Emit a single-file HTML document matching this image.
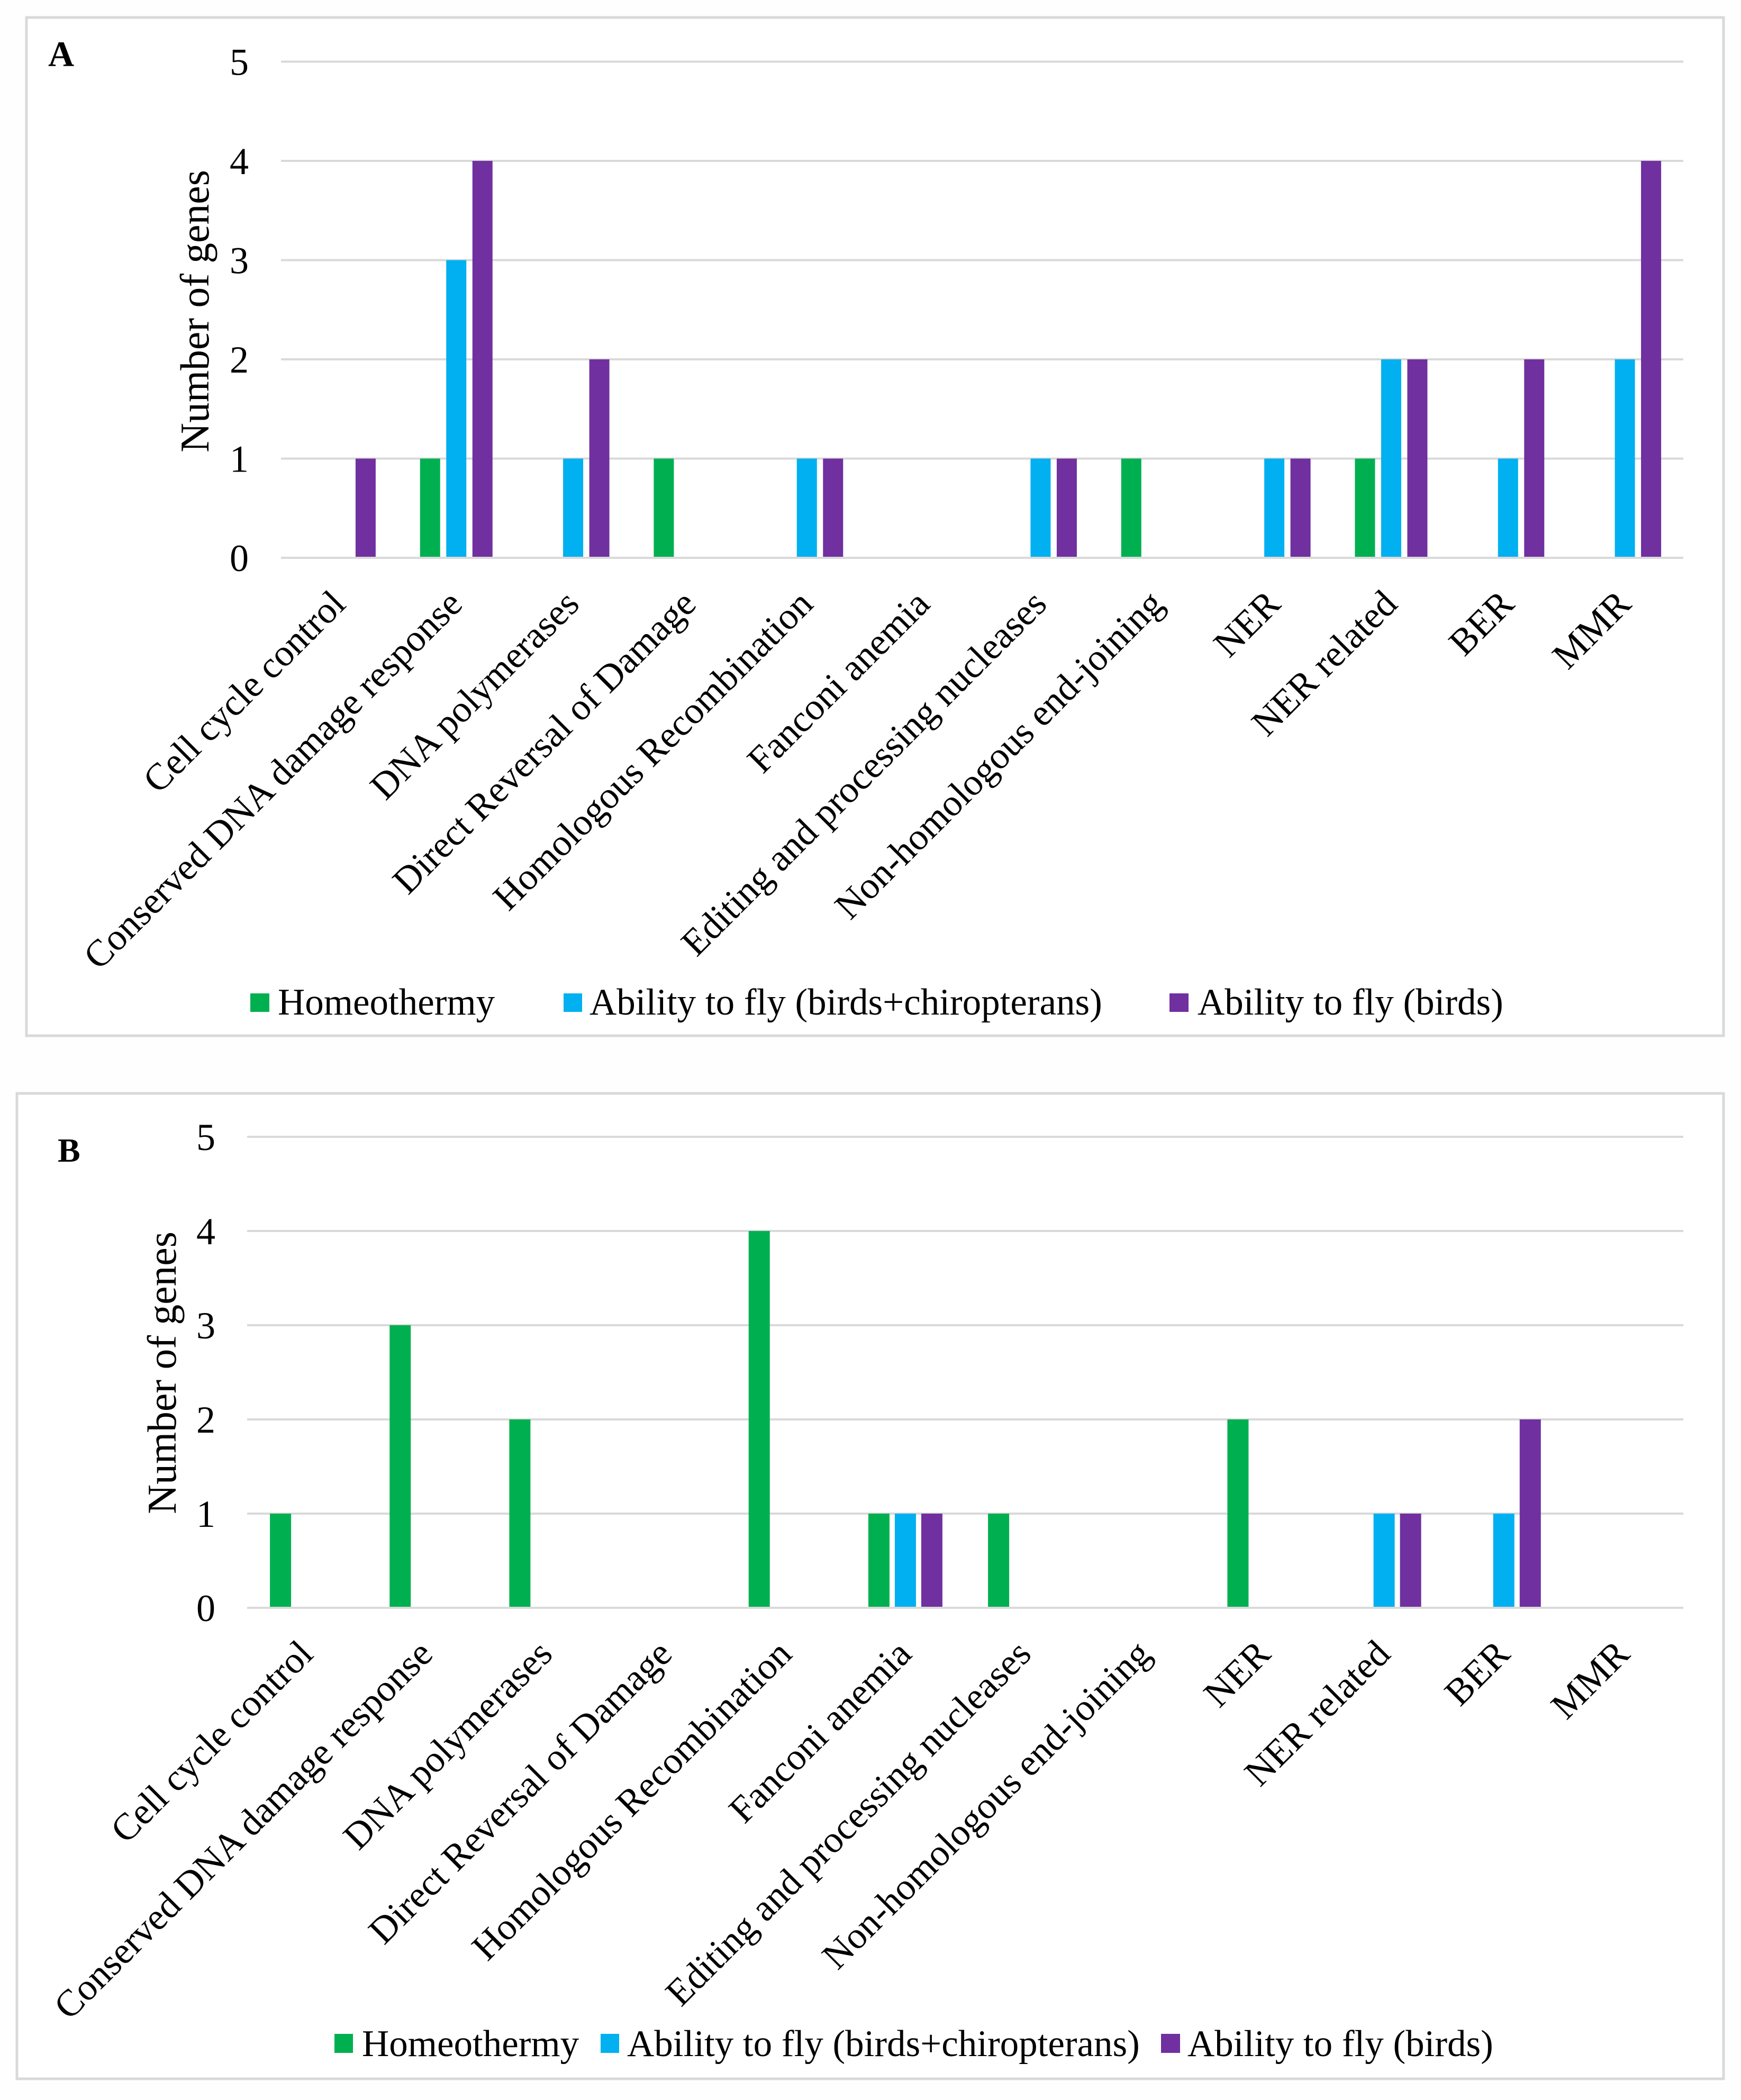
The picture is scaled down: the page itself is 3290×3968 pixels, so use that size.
<!DOCTYPE html>
<html lang="en">
<head>
<meta charset="utf-8">
<title>Number of genes by DNA repair category</title>
<style>
html,body{margin:0;padding:0;background:#fff;width:3290px;height:3968px;overflow:hidden}
svg{display:block}
text{font-family:"Liberation Serif",serif;fill:#000}
</style>
</head>
<body>
<svg id="figure" xmlns="http://www.w3.org/2000/svg" width="3290" height="3968" viewBox="0 0 3290 3968">
<rect x="0" y="0" width="3290" height="3968" fill="#fefefe"/>
<g id="panel-a">
<rect x="50" y="33" width="3207" height="1924" fill="#fff" stroke="#d9d9d9" stroke-width="5"/>
<text x="91" y="125" font-size="68" font-weight="bold">A</text>
<text transform="translate(394,588) rotate(-90)" text-anchor="middle" font-size="77.5">Number of genes</text>
<g>
<rect x="473" y="1877" width="36" height="35" fill="#00b050"/>
<text x="525" y="1917" font-size="71">Homeothermy</text>
<rect x="1065" y="1877" width="35" height="35" fill="#00b0f0"/>
<text x="1114" y="1917" font-size="71">Ability to fly (birds+chiropterans)</text>
<rect x="2210" y="1877" width="36" height="35" fill="#7030a0"/>
<text x="2263" y="1917" font-size="71">Ability to fly (birds)</text>
</g>
</g>
<g id="panel-b">
<rect x="32" y="2066" width="3225" height="1862" fill="#fff" stroke="#d9d9d9" stroke-width="5"/>
<text x="109" y="2195" font-size="64" font-weight="bold">B</text>
<text transform="translate(332,2594) rotate(-90)" text-anchor="middle" font-size="77.5">Number of genes</text>
<g>
<rect x="632" y="3843" width="35" height="36" fill="#00b050"/>
<text x="684" y="3885" font-size="71">Homeothermy</text>
<rect x="1135" y="3843" width="35" height="36" fill="#00b0f0"/>
<text x="1185" y="3885" font-size="71">Ability to fly (birds+chiropterans)</text>
<rect x="2194" y="3843" width="36" height="36" fill="#7030a0"/>
<text x="2244" y="3885" font-size="71">Ability to fly (birds)</text>
</g>
</g>
</svg>
<script>
var categories = ["Cell cycle control","Conserved DNA damage response","DNA polymerases","Direct Reversal of Damage","Homologous Recombination","Fanconi anemia","Editing and processing nucleases","Non-homologous end-joining","NER","NER related","BER","MMR"];
var yTicks = [0,1,2,3,4,5];
var seriesNames = ["homeothermy","fly-birds-chiropterans","fly-birds"];
var seriesColors = ["#00b050","#00b0f0","#7030a0"];
var homeothermyA = [0,1,0,1,0,0,0,1,0,1,0,0];
var flyBothA = [0,3,1,0,1,0,1,0,1,2,1,2];
var flyBirdsA = [1,4,2,0,1,0,1,0,1,2,2,4];
var homeothermyB = [1,3,2,0,4,1,1,0,2,0,0,0];
var flyBothB = [0,0,0,0,0,1,0,0,0,1,1,0];
var flyBirdsB = [0,0,0,0,0,1,0,0,0,1,2,0];

var NS = "http://www.w3.org/2000/svg";

function drawPanel(groupId, suffix, series, box) {
  var g = document.getElementById(groupId);
  var band = (box.right - box.left) / categories.length;
  function xCenter(i) { return box.left + band * (i + 0.5); }
  function yPos(v) { return box.y0 + (box.y5 - box.y0) * v / 5; }

  yTicks.forEach(function (t) {
    var line = document.createElementNS(NS, "line");
    
    
    line.setAttribute("x1", box.left);
    line.setAttribute("x2", box.right);
    line.setAttribute("y1", yPos(t));
    line.setAttribute("y2", yPos(t));
    line.setAttribute("stroke", "#d9d9d9");
    line.setAttribute("stroke-width", "4");
    g.appendChild(line);

    var label = document.createElementNS(NS, "text");
    
    
    label.setAttribute("x", box.tickX);
    label.setAttribute("y", yPos(t) + 25);
    label.setAttribute("text-anchor", "end");
    label.setAttribute("font-size", "72");
    label.textContent = t;
    g.appendChild(label);
  });

  series.forEach(function (values, s) {
    values.forEach(function (v, i) {
      if (v <= 0) return;
      var bar = document.createElementNS(NS, "rect");
      
      
      var cx = xCenter(i) + (s - 1) * box.step;
      bar.setAttribute("x", cx - box.barW / 2);
      bar.setAttribute("width", box.barW);
      bar.setAttribute("y", yPos(v));
      bar.setAttribute("height", yPos(0) - yPos(v) - 2);
      bar.setAttribute("fill", seriesColors[s]);
      g.appendChild(bar);
    });
  });

  categories.forEach(function (c, i) {
    var cat = document.createElementNS(NS, "text");
    
    
    var ax = xCenter(i) + box.labelDx;
    var ay = box.y0 + box.labelDy;
    cat.setAttribute("transform", "translate(" + ax + "," + ay + ") rotate(-45)");
    cat.setAttribute("text-anchor", "end");
    cat.setAttribute("font-size", "71");
    cat.textContent = c;
    g.appendChild(cat);
  });
}

drawPanel("panel-a", "a", [homeothermyA, flyBothA, flyBirdsA],
  {left: 531, right: 3181, y0: 1054, y5: 116.5, step: 49.5, barW: 38, tickX: 470, labelDx: 15, labelDy: 91});
drawPanel("panel-b", "b", [homeothermyB, flyBothB, flyBirdsB],
  {left: 467, right: 3181, y0: 3038, y5: 2148, step: 50, barW: 40, tickX: 407, labelDx: 15, labelDy: 91});
</script>
</body>
</html>
